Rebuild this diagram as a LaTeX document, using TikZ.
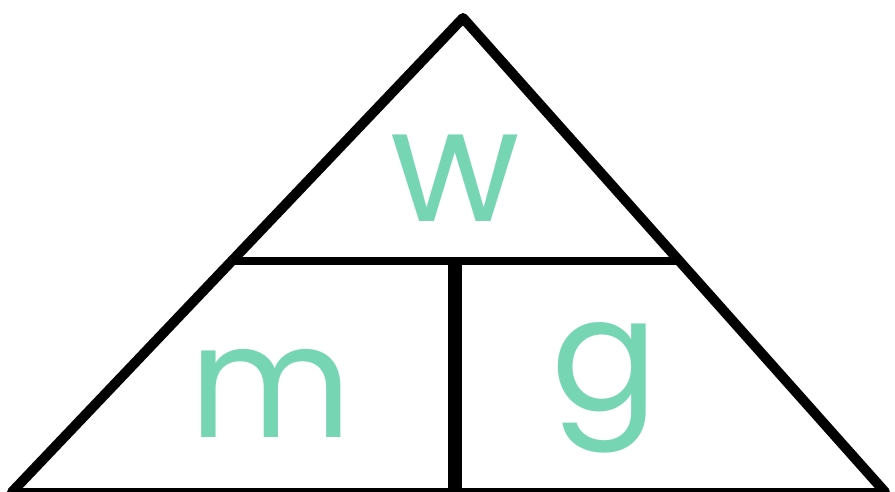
\documentclass[tikz,border=0pt]{standalone}
\usepackage{fontspec}
\setmainfont{Poppins}
\usetikzlibrary{calc}
\definecolor{mint}{RGB}{118,214,180}

\begin{document}
\begin{tikzpicture}[x=1pt,y=-1pt,
  side/.style={line width=10pt,line join=round,line cap=round},
  letter/.style={text=mint,font=\fontsize{158}{158}\selectfont,inner sep=0pt,anchor=base}]
\useasboundingbox (0,0) rectangle (895,492);
% Triangle
\coordinate (top) at (463,18);
\coordinate (left) at (12,492);
\coordinate (right) at (885,492);
\draw[side] (left) -- (top) -- (right);
\draw[line width=8pt] (left) -- (right);
% Dividers
\coordinate (hl) at ($(left)!0.487!(top)$);
\coordinate (hr) at ($(right)!0.487!(top)$);
\draw[line width=8pt] (hl) -- (hr);
\coordinate (vt) at (455,259);
\coordinate (vb) at (455,492);
\draw[line width=14pt] (vt) -- (vb);
% Letters
\node[letter] (w) at (455,222) {w};
\node[letter] (m) at (271,437) {m};
\node[letter] (g) at (605,410) {g};
\end{tikzpicture}
\end{document}
